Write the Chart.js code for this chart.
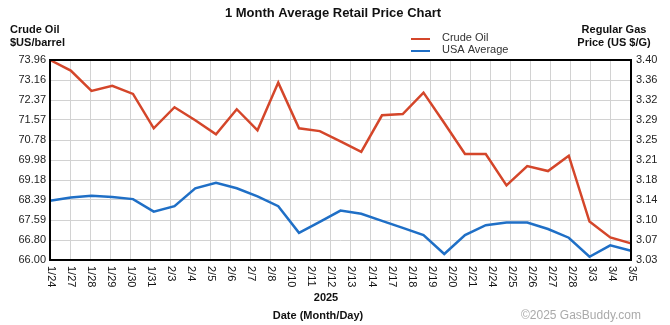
<!DOCTYPE html>
<html>
<head>
<meta charset="utf-8">
<script src="https://cdn.jsdelivr.net/npm/chart.js@4.4.1/dist/chart.umd.min.js"></script>
<style>
  body { margin: 0; background: #fff; }
  #wrap { width: 670px; height: 325px; }
</style>
</head>
<body>
<div id="wrap"><canvas id="priceChart" width="670" height="325"></canvas></div>
<script>
// date labels on the bottom axis (one per grid line)
const dateLabels = ['1/24', '1/27', '1/28', '1/29', '1/30', '1/31', '2/3', '2/4', '2/5', '2/6',
    '2/7', '2/8', '2/10', '2/11', '2/12', '2/13', '2/14', '2/17', '2/18', '2/19',
    '2/20', '2/21', '2/24', '2/25', '2/26', '2/27', '2/28', '3/3', '3/4', '3/5'];

// crude oil, $US/barrel (29 samples spread across the full width)
const crudeOil = [73.96, 73.54, 72.73, 72.93, 72.61, 71.24, 72.08, 71.56, 71.00, 72.00,
    71.16, 73.06, 71.24, 71.13, 70.72, 70.30, 71.76, 71.81, 72.66, 71.45,
    70.22, 70.22, 68.97, 69.74, 69.54, 70.15, 67.53, 66.90, 66.66];

// USA average regular gas, US $/G
const usaAverage = [3.139, 3.145, 3.148, 3.146, 3.142, 3.119, 3.129, 3.162, 3.172, 3.162,
    3.147, 3.129, 3.080, 3.100, 3.121, 3.115, 3.102, 3.089, 3.076, 3.041,
    3.076, 3.094, 3.099, 3.099, 3.087, 3.071, 3.036, 3.057, 3.047];

// tick labels, bottom to top
const leftTicks = ['66.00', '66.80', '67.59', '68.39', '69.18', '69.98', '70.78', '71.57', '72.37', '73.16', '73.96'];
const rightTicks = ['3.03', '3.07', '3.10', '3.14', '3.18', '3.21', '3.25', '3.29', '3.32', '3.36', '3.40'];
const leftMin = 66.00, leftMax = 73.96;
const rightMin = 3.03, rightMax = 3.398;

const FONT = 'Arial, "Liberation Sans", sans-serif';
const sampleIdx = crudeOil.map((v, i) => String(i));

function evenTicks(min, max, n) {
    let out = [];
    for (let i = 0; i < n; i++) out.push({ value: min + i * (max - min) / (n - 1) });
    return out;
}

// titles, legend, rotated date labels and frame
const decorations = {
    id: 'decorations',
    afterDraw(chart) {
        const ctx = chart.ctx;
        const area = chart.chartArea;
        const xs = chart.scales.x;
        ctx.save();

        // frame
        ctx.strokeStyle = '#000';
        ctx.lineWidth = 2;
        ctx.strokeRect(area.left, area.top, area.right - area.left, area.bottom - area.top);

        // title
        ctx.fillStyle = '#111';
        ctx.font = 'bold 13px ' + FONT;
        ctx.textAlign = 'center';
        ctx.textBaseline = 'middle';
        ctx.fillText('1 Month Average Retail Price Chart', 333, 13);

        // axis titles
        ctx.font = 'bold 11px ' + FONT;
        ctx.textAlign = 'left';
        ctx.fillText('Crude Oil', 10, 30);
        ctx.fillText('$US/barrel', 10, 43);
        ctx.textAlign = 'center';
        ctx.fillText('Regular Gas', 614, 30);
        ctx.fillText('Price (US $/G)', 614, 43);
        ctx.fillText('2025', 326, 298);
        ctx.fillText('Date (Month/Day)', 318, 316);

        // legend
        ctx.font = '11px ' + FONT;
        ctx.textAlign = 'left';
        chart.data.datasets.forEach((ds, i) => {
            let y = 39 + i * 12;
            ctx.strokeStyle = ds.borderColor;
            ctx.lineWidth = 2;
            ctx.beginPath();
            ctx.moveTo(411, y);
            ctx.lineTo(430, y);
            ctx.stroke();
            ctx.fillStyle = '#333';
            ctx.fillText(ds.label, 442, y - 1);
        });

        // rotated date labels
        ctx.fillStyle = '#111';
        ctx.font = '11px ' + FONT;
        ctx.textAlign = 'left';
        ctx.textBaseline = 'middle';
        dateLabels.forEach((lab, i) => {
            let px = xs.getPixelForValue(i);
            ctx.save();
            ctx.translate(px + 1, area.bottom + 6);
            ctx.rotate(Math.PI / 2);
            ctx.fillText(lab, 0, 0);
            ctx.restore();
        });

        // copyright
        ctx.fillStyle = '#aaa';
        ctx.font = '12px ' + FONT;
        ctx.textAlign = 'right';
        ctx.fillText('\u00a92025 GasBuddy.com', 641, 316);
        ctx.restore();
    }
};

let ctx = document.getElementById('priceChart').getContext('2d');
let chart = new Chart(ctx, {
    type: 'line',
    data: {
        labels: dateLabels,
        datasets: [{
            label: 'Crude Oil',
            data: crudeOil,
            xAxisID: 'xd',
            yAxisID: 'y',
            borderColor: '#d4462a',
            borderWidth: 2.5,
            pointRadius: 0,
            tension: 0,
            fill: false
        }, {
            label: 'USA Average',
            data: usaAverage,
            xAxisID: 'xd',
            yAxisID: 'y2',
            borderColor: '#1f6fc6',
            borderWidth: 2.5,
            pointRadius: 0,
            tension: 0,
            fill: false
        }]
    },
    options: {
        responsive: false,
        animation: false,
        devicePixelRatio: 1,
        layout: { padding: { top: 60, left: 0, right: 0, bottom: 0 } },
        plugins: {
            legend: { display: false },
            tooltip: { enabled: false }
        },
        scales: {
            x: {
                type: 'category',
                position: 'bottom',
                offset: false,
                grid: { color: '#d2d2d2', lineWidth: 1, drawTicks: false },
                border: { display: false },
                ticks: { display: false },
                afterFit: (s) => { s.height = 65; }
            },
            xd: {
                type: 'category',
                labels: sampleIdx,
                offset: false,
                display: false
            },
            y: {
                type: 'linear',
                position: 'left',
                min: leftMin,
                max: leftMax,
                afterBuildTicks: (s) => { s.ticks = evenTicks(leftMin, leftMax, leftTicks.length); },
                grid: { color: '#d2d2d2', lineWidth: 1, drawTicks: false },
                border: { display: false },
                ticks: {
                    padding: 4,
                    color: '#222',
                    font: { family: FONT, size: 11 },
                    callback: (v, i) => leftTicks[i]
                },
                afterFit: (s) => { s.width = 50; }
            },
            y2: {
                type: 'linear',
                position: 'right',
                min: rightMin,
                max: rightMax,
                afterBuildTicks: (s) => { s.ticks = evenTicks(rightMin, rightMax, rightTicks.length); },
                grid: { drawOnChartArea: false, drawTicks: false },
                border: { display: false },
                ticks: {
                    padding: 5,
                    color: '#222',
                    font: { family: FONT, size: 11 },
                    callback: (v, i) => rightTicks[i]
                },
                afterFit: (s) => { s.width = 39; }
            }
        }
    },
    plugins: [decorations]
});
</script>
</body>
</html>
